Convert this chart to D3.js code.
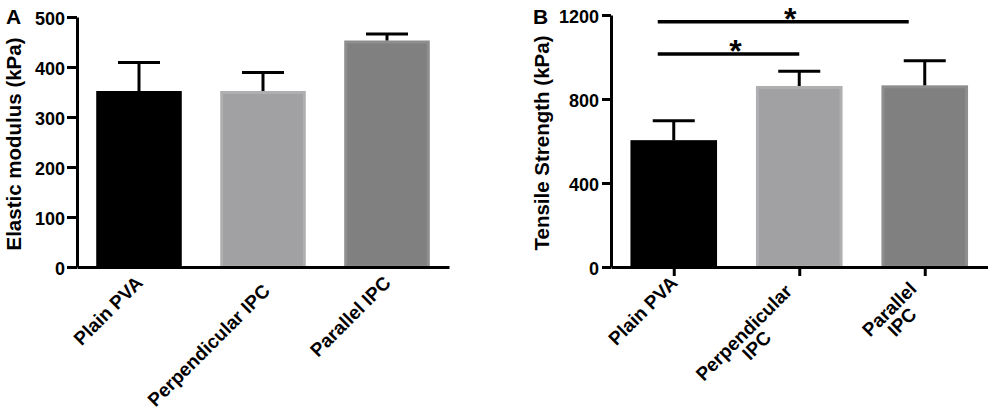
<!DOCTYPE html>
<html>
<head>
<meta charset="utf-8">
<script src="https://cdnjs.cloudflare.com/ajax/libs/d3/7.8.5/d3.min.js"></script>
<style>
  body { margin: 0; background: #fff; }
  text { font-family: "Liberation Sans", Arial, Helvetica, sans-serif; font-weight: bold; fill: #000; }
</style>
</head>
<body>
<div class="figure"></div>
<script>
// data
var categoriesA = ["Plain PVA", "Perpendicular IPC", "Parallel IPC"];
var modulusMean = [352, 352, 453];
var modulusSD = [57, 37, 13];
var ticksA = [0, 100, 200, 300, 400, 500];

var categoriesB = [["Plain PVA"], ["Perpendicular", "IPC"], ["Parallel", "IPC"]];
var strengthMean = [604, 862, 865];
var strengthSD = [92, 70, 117];
var ticksB = [0, 400, 800, 1200];

// significance brackets: bar index pairs and the level they sit at
var sigFrom = [0, 0];
var sigTo = [2, 1];
var sigLevel = [1168, 1014];
var sigLabel = ["*", "*"];

var barFill = ["#000000", "#a1a1a3", "#808080"];
var barEdge = ["#000000", "#afafb1", "#8e8e8e"];

var svgWidth = 992;
var svgHeight = 417;

var svg = d3.select(".figure")
  .append("svg")
  .attr("width", svgWidth)
  .attr("height", svgHeight);

function drawPanel(opts) {
  var x = d3.scalePoint()
    .domain(d3.range(opts.means.length))
    .range([opts.left, opts.right])
    .padding(0.5);

  var y = d3.scaleLinear()
    .domain([0, d3.max(opts.ticks)])
    .range([opts.bottom, opts.top]);

  var barW = x.step() * 0.69;
  var g = svg.append("g");

  // bars
  g.selectAll("rect.bar")
    .data(opts.means)
    .enter()
    .append("rect")
    .attr("class", "bar")
    .attr("x", (d, i) => x(i) - barW / 2 + 1.5)
    .attr("y", d => y(d) + 1.5)
    .attr("width", barW - 3)
    .attr("height", d => y(0) - y(d) - 1.5)
    .attr("fill", (d, i) => barFill[i])
    .attr("stroke", (d, i) => barEdge[i])
    .attr("stroke-width", 3);

  // error bars (mean + SD)
  var capW = 42;
  g.selectAll("line.err")
    .data(opts.means)
    .enter()
    .append("line")
    .attr("x1", (d, i) => x(i))
    .attr("x2", (d, i) => x(i))
    .attr("y1", d => y(d))
    .attr("y2", (d, i) => y(d + opts.sd[i]))
    .attr("stroke", "#000")
    .attr("stroke-width", 3);

  g.selectAll("line.cap")
    .data(opts.means)
    .enter()
    .append("line")
    .attr("x1", (d, i) => x(i) - capW / 2)
    .attr("x2", (d, i) => x(i) + capW / 2)
    .attr("y1", (d, i) => y(d + opts.sd[i]))
    .attr("y2", (d, i) => y(d + opts.sd[i]))
    .attr("stroke", "#000")
    .attr("stroke-width", 3);

  // axes
  var leftAxis = d3.axisLeft(y)
    .tickValues(opts.ticks)
    .tickFormat(d3.format("d"))
    .tickSize(opts.tickLen)
    .tickSizeOuter(0)
    .tickPadding(opts.tickPad);

  var yAxis = g.append("g")
    .attr("transform", `translate(${opts.left}, 0)`)
    .call(leftAxis);

  var bottomAxis = d3.axisBottom(x)
    .tickSize(opts.xTickLen)
    .tickSizeOuter(0)
    .tickFormat("");

  var xAxis = g.append("g")
    .attr("transform", `translate(0, ${opts.bottom})`)
    .call(bottomAxis);

  [yAxis, xAxis].forEach(a => {
    a.select(".domain").attr("stroke", "#000").attr("stroke-width", 3);
    a.selectAll(".tick line").attr("stroke", "#000").attr("stroke-width", 3);
  });
  yAxis.selectAll(".tick text")
    .attr("fill", "#000")
    .attr("dy", "0.42em")
    .style("font-size", "18px")
    .style("font-family", "'Liberation Sans', Arial, sans-serif")
    .style("font-weight", "bold");

  // rotated category labels
  opts.labels.forEach((lines, i) => {
    var multi = lines.length > 1;
    var lab = g.append("g");
    var first = lab.append("text")
      .attr("text-anchor", "end")
      .style("font-size", "19px")
      .text(lines[0]);
    var w = first.node().getComputedTextLength();
    // long labels sit a little lower in the original
    var drop = Math.max(0, w - 110) * 0.15;
    var ax = x(i) + (multi ? -7 : 5) + drop * 0.4;
    var ay = opts.bottom + (multi ? 23 : 17) + drop;
    lab.attr("transform", `translate(${ax}, ${ay}) rotate(-45)`);
    if (multi) {
      lines.slice(1).forEach((t, k) => {
        lab.append("text")
          .attr("x", -w / 2)
          .attr("y", 18 * (k + 1))
          .attr("text-anchor", "middle")
          .style("font-size", "19px")
          .text(t);
      });
    }
  });

  // y axis title
  g.append("text")
    .attr("transform", `translate(${opts.titleX}, ${(opts.top + opts.bottom) / 2 + 2}) rotate(-90)`)
    .attr("text-anchor", "middle")
    .style("font-size", "20.5px")
    .text(opts.title);

  // panel letter
  g.append("text")
    .attr("x", opts.letterX)
    .attr("y", 24)
    .style("font-size", "21px")
    .text(opts.letter);

  return {x: x, y: y, g: g};
}

var panelA = drawPanel({
  means: modulusMean, sd: modulusSD, ticks: ticksA, labels: categoriesA.map(d => [d]),
  left: 77, right: 449, top: 17, bottom: 267,
  tickLen: 10, tickPad: 2, xTickLen: 0,
  title: "Elastic modulus (kPa)", titleX: 21, letter: "A", letterX: 6
});

var panelB = drawPanel({
  means: strengthMean, sd: strengthSD, ticks: ticksB, labels: categoriesB,
  left: 611, right: 987.5, top: 15, bottom: 267,
  tickLen: 9, tickPad: 3, xTickLen: 9,
  title: "Tensile Strength (kPa)", titleX: 549, letter: "B", letterX: 533
});

// significance brackets on panel B
var xB = panelB.x, yB = panelB.y;
sigLevel.forEach((lvl, k) => {
  var x1 = xB(sigFrom[k]) - 16;
  var x2 = sigTo[k] - sigFrom[k] > 1 ? xB(sigTo[k]) - 16 : xB(sigTo[k]);
  panelB.g.append("line")
    .attr("x1", x1)
    .attr("x2", x2)
    .attr("y1", yB(lvl))
    .attr("y2", yB(lvl))
    .attr("stroke", "#000")
    .attr("stroke-width", 3.5);
  panelB.g.append("text")
    .attr("x", (x1 + x2) / 2 + 7)
    .attr("y", yB(lvl) + 8)
    .attr("text-anchor", "middle")
    .style("font-size", "32px")
    .text(sigLabel[k]);
});
</script>
</body>
</html>
